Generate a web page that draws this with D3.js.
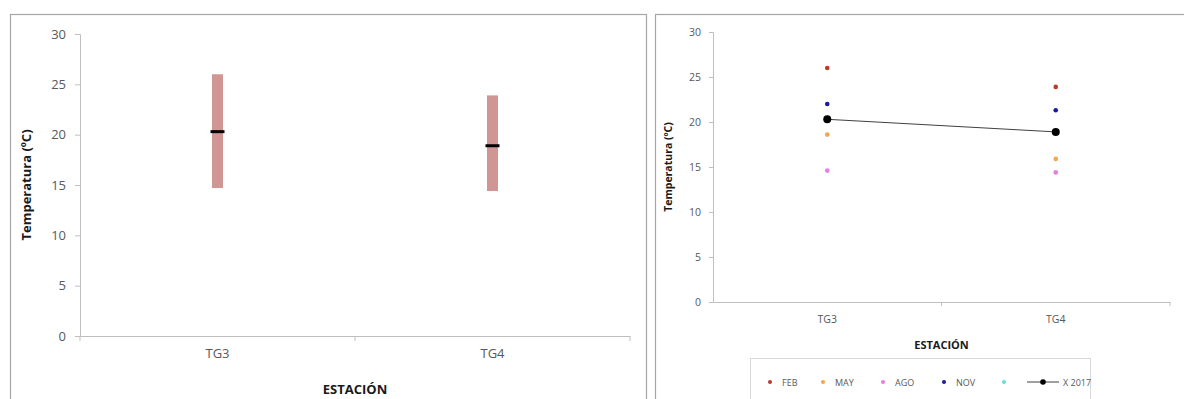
<!DOCTYPE html>
<html><head><meta charset="utf-8">
<script src="https://cdn.jsdelivr.net/npm/d3@7"></script>
<style>
body{margin:0;background:#fff;}
text{font-family:"Open Sans","Liberation Sans",sans-serif;}
</style></head>
<body><svg id="c" width="1184" height="399"></svg>
<script>
const categories = ["TG3", "TG4"];
const yTicks = [0, 5, 10, 15, 20, 25, 30];
const rangeMin = [14.7, 14.4];
const rangeMax = [26.0, 23.9];
const meanValues = [20.3, 18.9];
const seriesNames = ["FEB", "MAY", "AGO", "NOV", "", "X 2017"];
const seriesColors = ["#c0392b", "#f5a54a", "#e27fe0", "#1a1aa0", "#5fe0e0", "#000000"];
const febValues = [26.0, 23.9];
const mayValues = [18.6, 15.9];
const agoValues = [14.6, 14.4];
const novValues = [22.0, 21.3];
const emptyValues = [];
const meanSeries = [20.3, 18.9];

const svg = d3.select("#c");

// ---------- Left chart ----------
svg.append("rect").attr("x", 10.5).attr("y", 14.5).attr("width", 636).attr("height", 400)
  .attr("fill", "none").attr("stroke", "#a6a6a6").attr("stroke-width", 1.2);

const L = {x0: 80, x1: 630, y0: 336, y1: 34};
const xL = d3.scaleBand().domain(categories).range([L.x0, L.x1]);
const yL = d3.scaleLinear().domain([0, 30]).range([L.y0, L.y1]);

const gyL = svg.append("g").attr("transform", `translate(${L.x0},0)`)
  .call(d3.axisLeft(yL).tickValues(yTicks).tickSize(5).tickPadding(9));
gyL.select(".domain").attr("stroke", "#bfbfbf");
gyL.selectAll(".tick line").attr("stroke", "#bfbfbf");
gyL.selectAll(".tick text").attr("fill", "#595959").style("font-size", "13px");

const gxL = svg.append("g").attr("transform", `translate(0,${L.y0})`)
  .call(d3.axisBottom(xL).tickSize(0).tickPadding(13));
gxL.select(".domain").attr("stroke", "#bfbfbf");
gxL.selectAll(".tick text").attr("fill", "#595959").style("font-size", "13px");
// category boundary ticks
svg.append("g").selectAll("line").data([L.x0, (L.x0 + L.x1) / 2, L.x1]).join("line")
  .attr("x1", d => d).attr("x2", d => d).attr("y1", L.y0).attr("y2", L.y0 + 5)
  .attr("stroke", "#bfbfbf");

svg.append("g").selectAll("rect").data(categories).join("rect")
  .attr("x", d => xL(d) + xL.bandwidth() / 2 - 5.5)
  .attr("width", 11)
  .attr("y", (d, i) => yL(rangeMax[i]))
  .attr("height", (d, i) => yL(rangeMin[i]) - yL(rangeMax[i]))
  .attr("fill", "#d09694");
svg.append("g").selectAll("line").data(categories).join("line")
  .attr("x1", d => xL(d) + xL.bandwidth() / 2 - 7)
  .attr("x2", d => xL(d) + xL.bandwidth() / 2 + 7)
  .attr("y1", (d, i) => yL(meanValues[i])).attr("y2", (d, i) => yL(meanValues[i]))
  .attr("stroke", "#000").attr("stroke-width", 3);

svg.append("text").attr("transform", `translate(31,${(L.y0 + L.y1) / 2}) rotate(-90)`)
  .attr("text-anchor", "middle").style("font-size", "13px").style("font-weight", "bold")
  .attr("fill", "#1a1a1a").text("Temperatura (ºC)");
svg.append("text").attr("x", (L.x0 + L.x1) / 2).attr("y", 394).attr("text-anchor", "middle")
  .style("font-size", "13px").style("font-weight", "bold").attr("fill", "#1a1a1a").text("ESTACIÓN");

// ---------- Right chart ----------
svg.append("rect").attr("x", 655.5).attr("y", 14.5).attr("width", 600).attr("height", 400)
  .attr("fill", "none").attr("stroke", "#a6a6a6").attr("stroke-width", 1.2);

const R = {x0: 713, x1: 1170, y0: 302, y1: 32};
const xR = d3.scaleBand().domain(categories).range([R.x0, R.x1]);
const yR = d3.scaleLinear().domain([0, 30]).range([R.y0, R.y1]);

const gyR = svg.append("g").attr("transform", `translate(${R.x0},0)`)
  .call(d3.axisLeft(yR).tickValues(yTicks).tickSize(4).tickPadding(8));
gyR.select(".domain").attr("stroke", "#bfbfbf");
gyR.selectAll(".tick line").attr("stroke", "#bfbfbf");
gyR.selectAll(".tick text").attr("fill", "#595959").style("font-size", "10.5px");

const gxR = svg.append("g").attr("transform", `translate(0,${R.y0})`)
  .call(d3.axisBottom(xR).tickSize(0).tickPadding(14));
gxR.select(".domain").attr("stroke", "#bfbfbf");
gxR.selectAll(".tick text").attr("fill", "#595959").style("font-size", "10.5px");
svg.append("g").selectAll("line").data([(R.x0 + R.x1) / 2, R.x1]).join("line")
  .attr("x1", d => d).attr("x2", d => d).attr("y1", R.y0).attr("y2", R.y0 + 4)
  .attr("stroke", "#bfbfbf");

const cx = d => xR(d) + xR.bandwidth() / 2;
const pointSeries = [febValues, mayValues, agoValues, novValues, emptyValues];
pointSeries.forEach((vals, si) => {
  svg.append("g").selectAll("circle").data(vals).join("circle")
    .attr("cx", (d, i) => cx(categories[i])).attr("cy", d => yR(d))
    .attr("r", 2.3).attr("fill", seriesColors[si]);
});
svg.append("path").datum(meanSeries)
  .attr("d", d3.line().x((d, i) => cx(categories[i])).y(d => yR(d)))
  .attr("fill", "none").attr("stroke", "#404040").attr("stroke-width", 1);
svg.append("g").selectAll("circle").data(meanSeries).join("circle")
  .attr("cx", (d, i) => cx(categories[i])).attr("cy", d => yR(d))
  .attr("r", 4).attr("fill", "#000");

svg.append("text").attr("transform", `translate(672,${(R.y0 + R.y1) / 2}) rotate(-90)`)
  .attr("text-anchor", "middle").style("font-size", "10.5px").style("font-weight", "bold")
  .attr("fill", "#1a1a1a").text("Temperatura (ºC)");
svg.append("text").attr("x", (R.x0 + R.x1) / 2).attr("y", 349).attr("text-anchor", "middle")
  .style("font-size", "11px").style("font-weight", "bold").attr("fill", "#1a1a1a").text("ESTACIÓN");

// Legend
svg.append("rect").attr("x", 750.5).attr("y", 358.5).attr("width", 340).attr("height", 60)
  .attr("fill", "#fff").attr("stroke", "#d9d9d9");
const legendX = [770, 823, 883, 944, 1004];
const ly = 382;
legendX.forEach((lx, i) => {
  svg.append("circle").attr("cx", lx).attr("cy", ly).attr("r", 2).attr("fill", seriesColors[i]);
  if (seriesNames[i]) svg.append("text").attr("x", lx + 12).attr("y", ly + 3.5)
    .style("font-size", "9px").attr("fill", "#595959").text(seriesNames[i]);
});
svg.append("line").attr("x1", 1027).attr("x2", 1059).attr("y1", ly).attr("y2", ly)
  .attr("stroke", "#404040").attr("stroke-width", 1);
svg.append("circle").attr("cx", 1043).attr("cy", ly).attr("r", 2.8).attr("fill", "#000");
svg.append("text").attr("x", 1063).attr("y", ly + 3.5).style("font-size", "9px")
  .attr("fill", "#595959").text(seriesNames[5]);
</script></body></html>
